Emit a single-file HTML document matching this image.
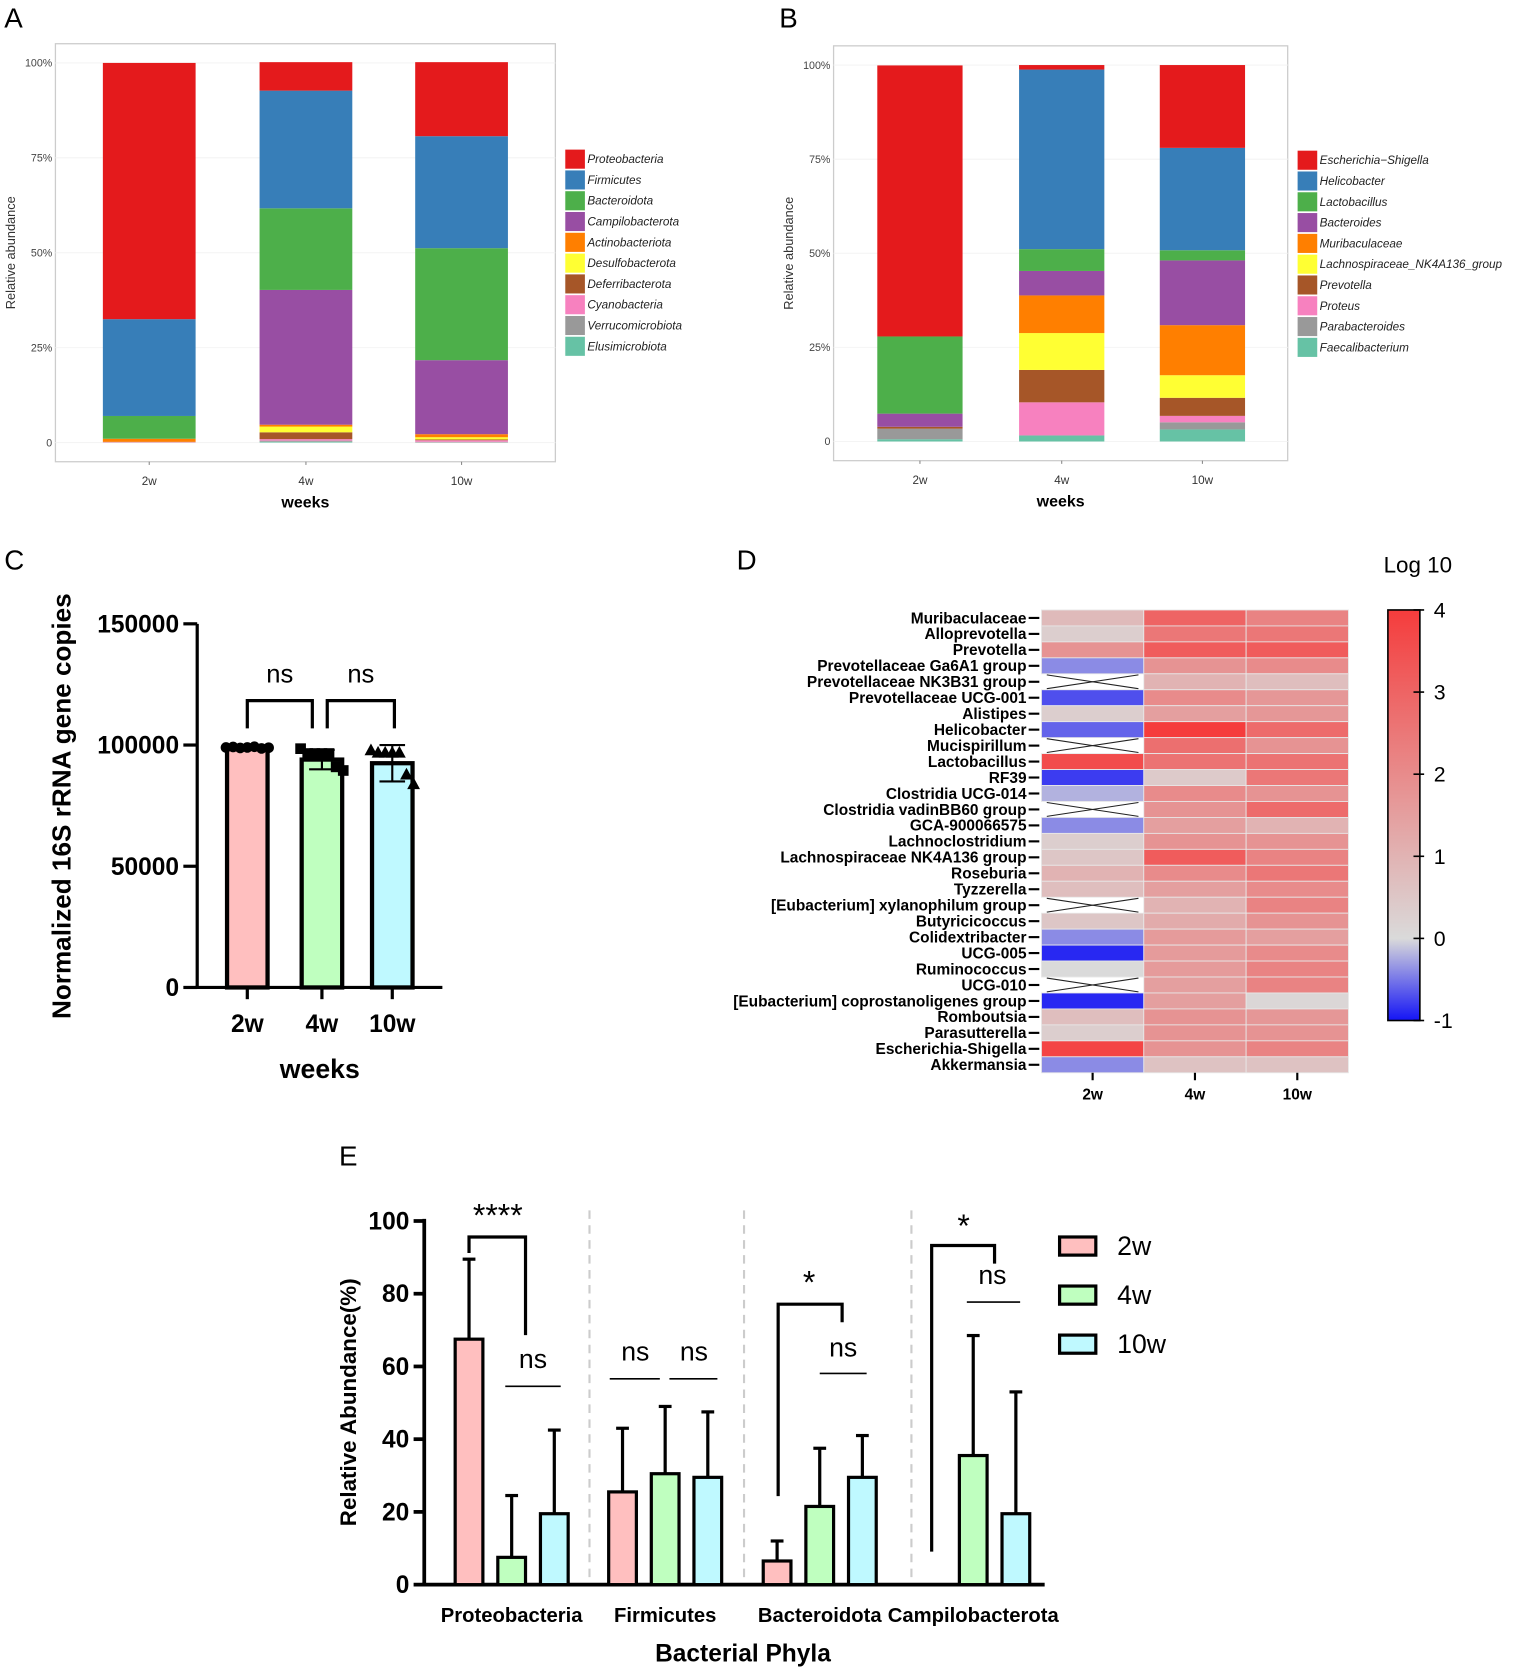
<!DOCTYPE html>
<html><head><meta charset="utf-8"><style>
html,body{margin:0;padding:0;background:#fff;}
svg{display:block;font-family:"Liberation Sans",Arial,sans-serif;}
</style></head><body>
<svg id="fig" width="1535" height="1671" viewBox="0 0 1440 1567" preserveAspectRatio="none" xmlns="http://www.w3.org/2000/svg">
<rect width="1440" height="1567" fill="#fff"/>
<text x="4" y="26" font-size="26">A</text>
<text x="731" y="26" font-size="26">B</text>
<text x="4" y="534" font-size="26">C</text>
<text x="691" y="534" font-size="26">D</text>
<text x="318" y="1093" font-size="26">E</text>
<g id="gA"></g>
<g id="gB"></g>
<g id="gC"></g>
<g id="gD"></g>
<g id="gE"></g>
</svg>
<script>
const NS="http://www.w3.org/2000/svg";
function mk(parent,tag,attrs,text){const e=document.createElementNS(NS,tag);for(const k in attrs)e.setAttribute(k,attrs[k]);if(text!==undefined)e.textContent=text;parent.appendChild(e);return e;}

// ---------- Panel A data ----------
const weeks=["2w","4w","10w"];
const phylaNames=["Proteobacteria","Firmicutes","Bacteroidota","Campilobacterota","Actinobacteriota","Desulfobacterota","Deferribacterota","Cyanobacteria","Verrucomicrobiota","Elusimicrobiota"];
const phyla2w=[67.5,25.5,6,0,0.8,0,0.1,0.1,0,0];
const phyla4w=[7.5,31,21.5,35.5,0.5,1.5,1.8,0.4,0.3,0.2];
const phyla10w=[19.5,29.5,29.5,19.5,0.8,0.6,0.2,0.4,0.2,0];
// ---------- Panel B data ----------
const genusNames=["Escherichia\u2212Shigella","Helicobacter","Lactobacillus","Bacteroides","Muribaculaceae","Lachnospiraceae_NK4A136_group","Prevotella","Proteus","Parabacteroides","Faecalibacterium"];
const genus2w=[72,0,20.5,3.5,0,0,0.5,0,2.8,0.6];
const genus4w=[1.2,47.7,5.8,6.5,10,9.8,8.6,8.8,0,1.6];
const genus10w=[22,27.2,2.7,17.2,13.3,6,4.8,1.7,1.9,3.2];
const stackColors=["#e41a1c","#377eb8","#4daf4a","#984ea3","#ff7f00","#ffff33","#a65628","#f781bf","#999999","#66c2a5"];
const pctTicks=["0","25%","50%","75%","100%"];

function stacked(g,o){
  const y=v=>o.y0-(o.y0-o.y100)*v/100;
  mk(g,"rect",{x:o.bx0,y:o.by0,width:o.bx1-o.bx0,height:o.by1-o.by0,fill:"#fff",stroke:"#ccc","stroke-width":1.2});
  pctTicks.forEach((t,i)=>{const yy=y(i*25);
    mk(g,"line",{x1:o.bx0,x2:o.bx1,y1:yy,y2:yy,stroke:"#f4f4f4"});
    const tl=mk(g,"text",{x:o.bx0-3,y:yy+3.5,"font-size":10,"text-anchor":"end",fill:"#444"},t);
    
    });
  o.series.forEach((vals,bi)=>{
    let cum=0;const cx=o.centers[bi];
    for(let k=vals.length-1;k>=0;k--){
      const v=vals[k];if(v<=0)continue;
      const r=mk(g,"rect",{x:cx-o.bw/2,y:y(cum+v),width:o.bw,height:y(cum)-y(cum+v),fill:stackColors[k]});
      
      
      cum+=v;}
    mk(g,"line",{x1:cx,x2:cx,y1:o.by1,y2:o.by1+3,stroke:"#888"});
    const xl=mk(g,"text",{x:cx,y:o.by1+22,"font-size":11,"text-anchor":"middle",fill:"#333"},weeks[bi]);
    
    
  });
  const xt=mk(g,"text",{x:(o.bx0+o.bx1)/2,y:o.by1+43,"font-size":15,"font-weight":"bold","text-anchor":"middle"},"weeks");
  
  
  const yt=mk(g,"text",{x:0,y:0,"font-size":12,"text-anchor":"middle",fill:"#333",transform:`translate(${o.bx0-38},${(o.by0+o.by1)/2}) rotate(-90)`},"Relative abundance");
  
  
  o.names.forEach((n,i)=>{const yy=o.ly+i*19.5;
    const le=mk(g,"g",{});
    
    
    mk(le,"rect",{x:o.lx,y:yy,width:19,height:18.5,fill:stackColors[i],stroke:"#fff","stroke-width":0.6});
    mk(le,"text",{x:o.lx+21,y:yy+13,"font-size":11,"font-style":"italic",fill:"#222"},n);});
}
stacked(document.getElementById("gA"),{bx0:52,bx1:521,by0:41,by1:433,y0:415,y100:59,centers:[140,287,433],bw:87,series:[phyla2w,phyla4w,phyla10w],names:phylaNames,lx:530,ly:140});
stacked(document.getElementById("gB"),{bx0:782,bx1:1208,by0:43,by1:432,y0:414,y100:61,centers:[863,996,1128],bw:80,series:[genus2w,genus4w,genus10w],names:genusNames,lx:1217,ly:141});

// ---------- Panel C data ----------
const cMeans=[99000,94000,92500];
const cSD=[1000,4000,7500];
const cPts2w=[99000,99200,98800,99000,99300,98600,98900];
const cPts4w=[98500,96500,96500,96500,96500,91000,89500];
const cPts10w=[98000,97000,97000,97000,97000,88000,84000];
const cTicks=[0,50000,100000,150000];
(function(){
  const g=document.getElementById("gC");
  const y=v=>926-(926-585)*v/150000;
  const centers=[232,302,368],bw=38,fills=["#ffbfbf","#bfffbf","#bff9ff"];
  const pts=[cPts2w,cPts4w,cPts10w];
  mk(g,"line",{x1:185,x2:185,y1:585,y2:926,stroke:"#000","stroke-width":3});
  mk(g,"line",{x1:183,x2:415,y1:926,y2:926,stroke:"#000","stroke-width":3});
  cTicks.forEach(t=>{const yy=y(t);mk(g,"line",{x1:172,x2:185,y1:yy,y2:yy,stroke:"#000","stroke-width":3});
    const l=mk(g,"text",{x:168,y:yy+8,"font-size":23,"font-weight":"bold","text-anchor":"end"},String(t));
    
    });
  centers.forEach((cx,i)=>{
    const b=mk(g,"rect",{x:cx-bw/2,y:y(cMeans[i]),width:bw,height:926-y(cMeans[i]),fill:fills[i],stroke:"#000","stroke-width":4});
    
    
    mk(g,"line",{x1:cx,x2:cx,y1:y(cMeans[i]+cSD[i]),y2:y(cMeans[i]-cSD[i]),stroke:"#000","stroke-width":2});
    [cMeans[i]+cSD[i],cMeans[i]-cSD[i]].forEach(v=>mk(g,"line",{x1:cx-12,x2:cx+12,y1:y(v),y2:y(v),stroke:"#000","stroke-width":2}));
    pts[i].forEach((v,j)=>{const px=cx-20+j*40/6,py=y(v);let m;
      if(i===0)m=mk(g,"circle",{cx:px,cy:py,r:5,fill:"#000"});
      else if(i===1)m=mk(g,"rect",{x:px-5,y:py-5,width:10,height:10,fill:"#000"});
      else m=mk(g,"polygon",{points:`${px},${py-6} ${px-6},${py+5} ${px+6},${py+5}`,fill:"#000"});
      
      });
    mk(g,"line",{x1:cx,x2:cx,y1:926,y2:937,stroke:"#000","stroke-width":3});
    const l=mk(g,"text",{x:cx,y:968,"font-size":23,"font-weight":"bold","text-anchor":"middle"},weeks[i]);
    
    
  });
  [[232,293],[307,370]].forEach(([a,b])=>{
    mk(g,"polyline",{points:`${a},683 ${a},657 ${b},657 ${b},683`,fill:"none",stroke:"#000","stroke-width":3});
    const t=mk(g,"text",{x:(a+b)/2,y:640,"font-size":24,"text-anchor":"middle"},"ns");
    
    });
  const xt=mk(g,"text",{x:300,y:1011,"font-size":25,"font-weight":"bold","text-anchor":"middle"},"weeks");
  
  
  const yt=mk(g,"text",{x:0,y:0,"font-size":24.5,"font-weight":"bold","text-anchor":"middle",transform:"translate(66,756) rotate(-90)"},"Normalized 16S rRNA gene copies");
  
  
})();

// ---------- Panel D data ----------
const taxa=["Muribaculaceae","Alloprevotella","Prevotella","Prevotellaceae Ga6A1 group","Prevotellaceae NK3B31 group","Prevotellaceae UCG-001","Alistipes","Helicobacter","Mucispirillum","Lactobacillus","RF39","Clostridia UCG-014","Clostridia vadinBB60 group","GCA-900066575","Lachnoclostridium","Lachnospiraceae NK4A136 group","Roseburia","Tyzzerella","[Eubacterium] xylanophilum group","Butyricicoccus","Colidextribacter","UCG-005","Ruminococcus","UCG-010","[Eubacterium] coprostanoligenes group","Romboutsia","Parasutterella","Escherichia-Shigella","Akkermansia"];
const log2w=[0.8,0.3,1.8,-0.4,null,-0.7,0.3,-0.6,null,3.6,-0.8,-0.2,null,-0.4,0.3,0.5,1.0,0.7,null,0.5,-0.4,-0.9,0.0,null,-0.9,0.7,0.3,3.8,-0.4];
const log4w=[3.0,2.5,3.2,1.8,1.0,2.0,1.5,4.0,2.7,2.6,0.4,2.0,1.8,1.5,1.8,3.2,2.0,1.5,1.0,1.2,1.6,1.6,1.6,1.5,1.5,1.8,1.8,1.8,0.6];
const log10w=[2.2,2.5,3.2,2.0,0.7,1.7,1.7,2.8,1.8,2.6,2.5,1.8,2.8,1.0,1.8,2.2,2.5,2.0,2.2,1.8,1.5,2.0,2.2,2.2,0.1,1.7,1.8,2.2,0.6];
const cbTicks=[-1,0,1,2,3,4];
function heatColor(v){
  const g=[218,218,218];let c;
  if(v>=0){const t=Math.min(v/4,1);c=[g[0]+(245-g[0])*t,g[1]+(60-g[1])*t,g[2]+(60-g[2])*t];}
  else{const t=Math.min(-v,1);c=[g[0]+(20-g[0])*t,g[1]+(20-g[1])*t,g[2]+(245-g[2])*t];}
  return `rgb(${c.map(Math.round).join(",")})`;}
(function(){
  const g=document.getElementById("gD");
  const x0=977,cw=96,y0=572,rh=(1006-572)/taxa.length;
  const cols=[log2w,log4w,log10w];
  taxa.forEach((n,r)=>{const yy=y0+r*rh;
    const l=mk(g,"text",{x:963,y:yy+rh/2+5,"font-size":14.5,"font-weight":"bold","text-anchor":"end"},n);
    
    
    mk(g,"line",{x1:965,x2:975,y1:yy+rh/2,y2:yy+rh/2,stroke:"#000","stroke-width":2});
    cols.forEach((col,c)=>{const xx=x0+c*cw,v=col[r];
      if(v===null){
        const cross=mk(g,"g",{});
        
        
        mk(cross,"line",{x1:xx+5,x2:xx+cw-5,y1:yy+1,y2:yy+rh-1,stroke:"#222","stroke-width":1});
        mk(cross,"line",{x1:xx+5,x2:xx+cw-5,y1:yy+rh-1,y2:yy+1,stroke:"#222","stroke-width":1});
      }else{
        const cell=mk(g,"rect",{x:xx,y:yy,width:cw,height:rh,fill:heatColor(v),stroke:"#e8e8e8","stroke-width":0.8});
        
        }
    });});
  weeks.forEach((w,c)=>{const cx=x0+c*cw+cw/2;
    mk(g,"line",{x1:cx,x2:cx,y1:1006,y2:1013,stroke:"#000","stroke-width":2});
    const l=mk(g,"text",{x:cx,y:1031,"font-size":14.5,"font-weight":"bold","text-anchor":"middle"},w);
    
    });
  const defs=mk(g,"defs",{});const lg=mk(defs,"linearGradient",{id:"cbg",x1:0,y1:1,x2:0,y2:0});
  [-1,-0.5,0,1,2,3,4].forEach(v=>mk(lg,"stop",{offset:((v+1)/5*100)+"%","stop-color":heatColor(v)}));
  const cy=v=>957-(957-572)*(v+1)/5;
  const cb=mk(g,"rect",{x:1302,y:572,width:30,height:385,fill:"url(#cbg)",stroke:"#000","stroke-width":1.5});
  
  
  cbTicks.forEach(t=>{mk(g,"line",{x1:1326,x2:1336,y1:cy(t),y2:cy(t),stroke:"#000","stroke-width":1.5});
    const l=mk(g,"text",{x:1345,y:cy(t)+7,"font-size":20},String(t));
    
    });
  const t=mk(g,"text",{x:1298,y:537,"font-size":21},"Log 10");
  
  
})();

// ---------- Panel E data ----------
const eGroups=["Proteobacteria","Firmicutes","Bacteroidota","Campilobacterota"];
const e2w=[67.5,25.5,6.5,0];
const e4w=[7.5,30.5,21.5,35.5];
const e10w=[19.5,29.5,29.5,19.5];
const e2wTop=[89.5,43,12,0];
const e4wTop=[24.5,49,37.5,68.5];
const e10wTop=[42.5,47.5,41,53];
const eTicks=[0,20,40,60,80,100];
(function(){
  const g=document.getElementById("gE");
  const y=v=>1486-3.41*v;
  const gc=[480,624,769,913],off=[-40,0,40],bw=26,fills=["#ffbfbf","#bfffbf","#bff9ff"];
  const vals=[e2w,e4w,e10w],tops=[e2wTop,e4wTop,e10wTop];
  [553,698,855].forEach(x=>mk(g,"line",{x1:x,x2:x,y1:1135,y2:1486,stroke:"#ccc","stroke-width":2,"stroke-dasharray":"8,6"}));
  mk(g,"line",{x1:398,x2:398,y1:1143,y2:1486,stroke:"#000","stroke-width":3.5});
  mk(g,"line",{x1:396,x2:980,y1:1486,y2:1486,stroke:"#000","stroke-width":3.5});
  eTicks.forEach(t=>{mk(g,"line",{x1:388,x2:398,y1:y(t),y2:y(t),stroke:"#000","stroke-width":3.5});
    const l=mk(g,"text",{x:384,y:y(t)+8,"font-size":23,"font-weight":"bold","text-anchor":"end"},String(t));
    
    });
  eGroups.forEach((n,gi)=>{
    [0,1,2].forEach(s=>{const cx=gc[gi]+off[s],v=vals[s][gi];
      if(v>0){
        mk(g,"line",{x1:cx,x2:cx,y1:y(tops[s][gi]),y2:y(v),stroke:"#000","stroke-width":3});
        mk(g,"line",{x1:cx-6,x2:cx+6,y1:y(tops[s][gi]),y2:y(tops[s][gi]),stroke:"#000","stroke-width":3});
        const b=mk(g,"rect",{x:cx-bw/2,y:y(v),width:bw,height:1486-y(v),fill:fills[s],stroke:"#000","stroke-width":3});
        
        }
    });
    const l=mk(g,"text",{x:gc[gi],y:1521,"font-size":19,"font-weight":"bold","text-anchor":"middle"},n);
    
    
  });
  function br(pts){mk(g,"polyline",{points:pts,fill:"none",stroke:"#000","stroke-width":3});}
  function ln(a,b,yy){mk(g,"line",{x1:a,x2:b,y1:yy,y2:yy,stroke:"#000","stroke-width":1.5});}
  function tx(x,yy,s,fs){const t=mk(g,"text",{x:x,y:yy,"font-size":fs,"text-anchor":"middle"},s);
    
    }
  br("440,1175 440,1160 493,1160 493,1252"); tx(467,1150,"****",30);
  tx(500,1283,"ns",25); ln(474,526,1300);
  tx(596,1276,"ns",25); ln(572,619,1293);
  tx(651,1276,"ns",25); ln(628,673,1293);
  br("730,1403 730,1223 790,1223 790,1240"); tx(759,1213,"*",30);
  tx(791,1272,"ns",25); ln(769,813,1288);
  br("874,1455 874,1168 933,1168 933,1185"); tx(904,1160,"*",30);
  tx(931,1204,"ns",25); ln(907,957,1221);
  const lnames=["2w","4w","10w"];
  lnames.forEach((n,i)=>{const yy=1160+i*46;
    const le=mk(g,"g",{});
    
    
    mk(le,"rect",{x:994,y:yy,width:34,height:17,fill:fills[i],stroke:"#000","stroke-width":3});
    mk(le,"text",{x:1048,y:yy+17,"font-size":25},n);});
  const xt=mk(g,"text",{x:697,y:1558,"font-size":23,"font-weight":"bold","text-anchor":"middle"},"Bacterial Phyla");
  
  
  const yt=mk(g,"text",{x:0,y:0,"font-size":21,"font-weight":"bold","text-anchor":"middle",transform:"translate(334,1315) rotate(-90)"},"Relative Abundance(%)");
  
  
})();
</script>
</body></html>
